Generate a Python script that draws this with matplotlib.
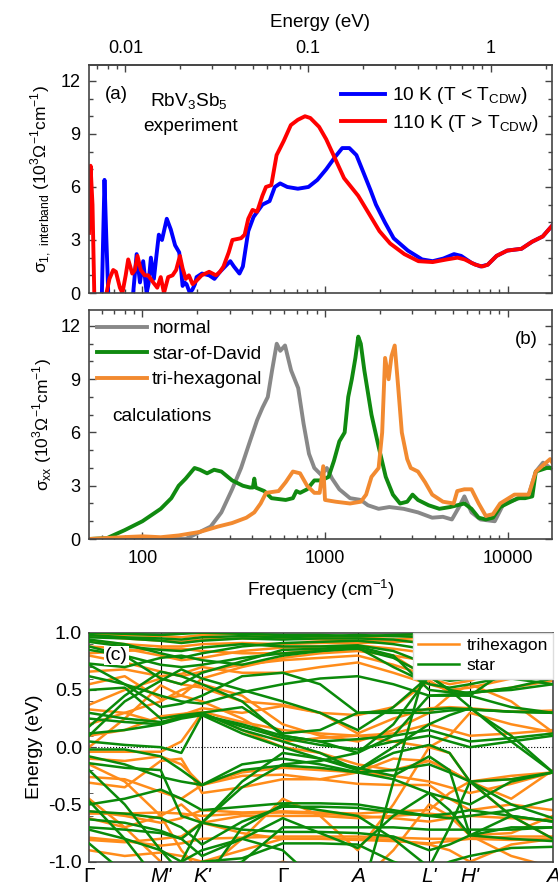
import numpy as np
import matplotlib
matplotlib.use("Agg")
import matplotlib.pyplot as plt
from matplotlib.ticker import MultipleLocator, FixedLocator, LogLocator, NullFormatter, FuncFormatter

plt.rcParams['font.family'] = ['Liberation Sans', 'DejaVu Sans']
plt.rcParams['axes.unicode_minus'] = False

# ---------------- panel (a): experiment ----------------
blue_f = [57, 60, 62, 63.5, 65, 67, 86, 89, 93, 97, 101, 105.5, 108, 111.3, 115.6, 119, 123, 128,
          136, 143, 151, 159, 162, 166, 170, 174.5, 182, 188, 194, 198, 212, 232, 248, 266, 290,
          303, 317, 340, 355, 380, 406, 454, 497, 531, 568, 621, 710, 812, 908, 1015, 1136, 1243,
          1359, 1486, 1626, 1778, 1901, 2127, 2376, 2842, 3400, 3887, 4448, 5086, 5563, 6357,
          7114, 7780, 8705, 9949, 11900, 13610, 15570, 17500]
blue_s = [-2, 0.0, 6.4, 3.0, 0.0, -2, -2, 0.0, 2.2, 0.6, 1.8, 0.0, 0.5, 2.0, 0.8, 2.0, 3.3, 3.0,
          4.2, 3.6, 2.7, 2.3, 1.6, 0.4, 0.6, 0.5, 0.0, 0.2, 0.5, 0.9, 1.1, 1.0, 0.8, 1.2, 1.6,
          1.8, 1.5, 1.1, 1.5, 3.5, 4.3, 5.0, 5.2, 6.0, 6.2, 6.0, 5.9, 6.0, 6.4, 7.0, 7.7, 8.2,
          8.2, 7.8, 6.8, 5.8, 5.0, 4.0, 3.1, 2.4, 1.9, 1.8, 1.95, 2.2, 2.1, 1.7,
          1.5, 1.6, 2.1, 2.4, 2.5, 2.9, 3.2, 3.8]

red_f = [51, 52, 53.3, 54.5, 56, 62, 63.6, 66, 69.2, 71.6, 75.3, 77.7, 81, 83.6, 88, 91, 94, 98,
         103, 107.6, 114.6, 120.6, 126, 131.3, 138.4, 146.3, 153, 160.5, 166, 172.8, 179.7, 188.3,
         198, 211, 232, 253, 266, 278, 297, 311, 347, 363, 380, 401, 425, 454, 475, 508, 543, 594,
         650, 710, 777, 831, 928, 1015, 1136, 1271, 1390, 1520, 1738, 1987, 2274, 2720, 3250,
         3887, 4650, 5316, 5813, 6653, 7277, 7780, 8705, 9949, 11900, 13610, 15570, 17500]
red_s = [3.4, 7.2, 5.0, 0.0, -2, -2, 0.0, 0.8, 1.3, 1.2, 0.3, 0.0, 1.0, 1.9, 1.1, 1.3, 2.1, 1.3,
         1.0, 1.0, 0.6, 0.3, 0.9, 0.0, 0.9, 1.0, 1.3, 2.1, 1.4, 0.8, 1.0, 0.5,
         0.7, 1.0, 1.2, 1.0, 1.2, 1.5, 2.3, 3.0, 3.1, 3.3, 4.2, 4.7, 4.6, 5.5, 6.0, 6.1, 7.8, 8.6,
         9.5, 9.8, 10.0, 9.9, 9.4, 8.7, 7.6, 6.5, 6.0, 5.5, 4.5, 3.5, 2.8, 2.2, 1.8,
         1.75, 1.9, 2.0, 1.9, 1.6, 1.5, 1.6, 2.1, 2.4, 2.5, 2.9, 3.2, 3.8]

# ---------------- panel (b): calculations ----------------
normal_f = [51, 172.5, 206.6, 236.5, 270.7, 310, 347, 388, 425, 454.6, 486, 513, 544, 569, 604,
            652, 713, 763, 817, 874, 956, 1023, 1094, 1198, 1371, 1570, 1718, 1966, 2251, 2695,
            3228, 3864, 4424, 4952, 5419, 5797, 6343, 7100, 8503, 9517, 10894, 13047, 14275,
            15619, 18294]
normal_s = [0, 0.0, 0.4, 0.7, 1.5, 2.8, 4.0, 5.5, 6.7, 7.4, 8.0, 9.5, 11.0, 10.6, 10.9,
            9.5, 8.5, 6.5, 4.8, 4.0, 3.6, 4.0, 3.4, 2.8, 2.3, 2.2, 1.9, 1.7, 1.8, 1.7,
            1.5, 1.2, 1.25, 1.1, 1.8, 2.4, 1.5, 1.1, 1.0, 2.0, 2.2, 2.5, 3.8,
            4.3, 3.8]

star_f = [51, 64, 80, 100, 126, 144, 158, 172.5, 193, 206.6, 226, 247, 270.7, 310, 355, 388,
          402.5, 410, 417, 465, 509, 609, 667, 697, 730, 798, 874, 956, 1046, 1119, 1198, 1281,
          1340, 1402, 1467, 1521, 1570, 1642, 1797, 1966, 2151, 2354, 2576, 2819, 3016, 3228,
          3693, 4229, 4841, 5298, 5797, 6343, 6941, 7597, 8313, 9097, 9955, 11397, 12471,
          13645, 14275, 16341, 18294]
star_s = [0.0, 0.05, 0.5, 1.0, 1.7, 2.3, 3.0, 3.4, 4.0, 3.9, 3.7, 3.9, 3.8, 3.3, 3.0, 2.9,
          2.9, 3.4, 2.9, 2.7, 2.3, 2.2, 2.3, 2.7, 2.6, 2.8, 3.3, 3.3, 3.5, 4.4, 5.5, 6.0,
          8.0, 9.0, 10.2, 11.4, 11.0, 9.5, 7.0, 5.2, 3.5, 2.5, 2.0, 2.1, 2.5, 2.2,
          1.9, 1.7, 1.8, 1.9, 2.0, 1.7, 1.2, 1.1, 1.2, 1.8, 2.0, 2.3, 2.3,
          2.4, 3.8, 4.0, 4.0]

trihex_f = [51, 77, 100, 126, 158, 206.6, 259, 310, 371, 410, 444, 475.5, 557, 609, 667, 730,
            798, 874, 935, 978, 1000, 1145, 1371, 1570, 1679, 1797, 1966, 2056, 2133, 2230,
            2312, 2408, 2519, 2634, 2819, 2949, 3228, 3531, 3864, 4424, 5063, 5298, 5797,
            6343, 6941, 7597, 8313, 9097, 10894, 13047, 14275, 17094, 18294]
trihex_s = [0.0, 0.1, 0.15, 0.1, 0.2, 0.4, 0.7, 0.9, 1.2, 1.5, 2.0, 2.6, 2.7, 3.2, 3.8, 3.7,
            3.0, 2.6, 2.6, 4.1, 2.2, 2.1, 2.0, 2.1, 2.5, 3.5, 4.0, 6.0, 10.2, 9.0,
            10.3, 10.9, 8.5, 6.0, 4.5, 4.0, 3.8, 3.2, 2.5, 2.1, 2.0, 2.7, 2.8,
            2.8, 2.0, 1.3, 1.4, 2.0, 2.5, 2.5, 3.8, 4.5, 4.0]

# ---------------- panel (c): bands ----------------
k_nodes = [0, 0.077, 0.1545, 0.199, 0.2435, 0.330, 0.4175, 0.498, 0.579, 0.656, 0.733, 0.777,
           0.821, 0.910, 1.0]
k_labels = ['Γ', "M'", "K'", 'Γ', 'A', "L'", "H'", 'A']

bands_star = [
    [1.00, 0.99, 0.98, 0.99, 1.00, 0.99, 0.98, 0.98, 0.97, 0.98, 0.99, 1.00, 1.00, 0.99, 0.98],
    [0.98, 0.96, 0.95, 0.94, 0.96, 0.97, 0.96, 0.97, 0.98, 0.97, 0.96, 0.95, 0.97, 0.97, 0.99],
    [0.96, 0.95, 0.93, 0.91, 0.93, 0.95, 0.94, 0.95, 0.95, 0.94, 0.90, 0.88, 0.90, 0.94, 0.95],
    [0.94, 0.90, 0.82, 0.78, 0.82, 0.88, 0.91, 0.92, 0.93, 0.90, 0.85, 0.83, 0.86, 0.90, 0.93],
    [0.92, 0.88, 0.85, 0.84, 0.87, 0.90, 0.88, 0.88, 0.89, 0.84, 0.72, 0.70, 0.73, 0.80, 0.86],
    [0.88, 0.80, 0.72, 0.70, 0.72, 0.78, 0.82, 0.84, 0.86, 0.78, 0.62, 0.58, 0.60, 0.66, 0.76],
    [0.85, 0.80, 0.60, 0.55, 0.65, 0.75, 0.85, 0.86, 0.88, 0.80, 0.50, 0.48, 0.45, 0.70, 0.90],
    [0.73, 0.70, 0.78, 0.80, 0.76, 0.72, 0.80, 0.84, 0.87, 0.70, 0.55, 0.52, 0.55, 0.62, 0.70],
    [0.72, 0.55, 0.35, 0.38, 0.45, 0.62, 0.65, 0.55, 0.30, 0.32, 0.33, 0.34, 0.33, 0.31, 0.30],
    [0.62, 0.55, 0.45, 0.40, 0.38, 0.48, 0.55, 0.60, 0.62, 0.55, 0.45, 0.46, 0.48, 0.50, 0.55],
    [0.50, 0.52, 0.25, 0.28, 0.30, 0.15, 0.05, -0.05, -0.20, 0.00, 0.20, 0.28, 0.34, 0.10, -0.22],
    [0.30, 0.25, 0.22, 0.26, 0.30, 0.35, 0.12, 0.15, 0.30, 0.30, 0.30, 0.32, 0.33, 0.31, 0.30],
    [0.25, 0.22, 0.20, 0.27, 0.29, 0.18, 0.08, 0.02, -0.02, 0.05, 0.10, 0.05, 0.00, 0.05, 0.10],
    [0.18, 0.45, 0.66, 0.62, 0.55, 0.40, 0.10, 0.05, -0.05, 0.10, 0.45, 0.45, 0.45, 0.35, 0.30],
    [0.12, 0.15, 0.20, 0.25, 0.28, 0.20, 0.10, 0.05, 0.07, 0.10, 0.15, 0.10, 0.05, 0.08, 0.12],
    [0.10, 0.40, 0.58, 0.68, 0.60, 0.50, 0.40, 0.30, 0.15, 0.35, 0.62, 0.50, 0.47, 0.52, 0.60],
    [0.05, 0.02, 0.00, -0.05, 0.28, 0.12, 0.00, -0.10, -0.20, -0.05, 0.02, -0.05, -0.30, -0.28, -0.22],
    [-0.02, -0.02, -0.08, -0.20, -0.33, -0.20, -0.16, -0.18, -0.22, -0.28, -0.40, -0.45, -0.50, -0.30, -0.22],
    [-0.08, -0.15, -0.26, -0.30, -0.33, -0.15, -0.10, -0.15, -0.22, -0.20, -0.15, -0.22, -0.30, -0.50, -0.62],
    [-0.14, -0.18, -0.20, -0.60, -0.66, -0.35, -0.15, -0.12, -0.05, 0.20, 0.62, 0.50, 0.35, 0.05, -0.22],
    [-0.20, -0.50, -0.90, -1.10, -1.20, -0.70, -0.50, -0.55, -0.60, -0.80, -1.05, -0.70, -0.30, -0.60, -0.80],
    [-0.47, -0.80, -1.20, -1.00, -0.66, -0.30, -0.05, -0.10, -0.18, -0.25, -0.08, -0.20, -0.77, -0.60, -0.65],
    [-0.50, -0.45, -0.37, -0.45, -0.55, -0.52, -0.49, -0.49, -0.50, -0.55, -0.60, -0.62, -0.60, -0.55, -0.45],
    [-0.56, -0.58, -0.62, -0.70, -0.85, -0.65, -0.52, -0.52, -0.53, -0.57, -0.60, -0.58, -0.55, -0.60, -0.65],
    [-0.63, -0.66, -0.73, -0.80, -0.95, -0.80, -0.62, -0.75, -0.88, -0.60, -0.40, -0.55, -0.77, -0.70, -0.70],
    [-0.70, -0.72, -0.75, -0.80, -0.66, -0.72, -0.74, -0.74, -0.75, -0.78, -0.90, -0.85, -0.77, -0.80, -0.82],
    [-0.72, -0.80, -0.90, -1.00, -1.10, -1.00, -0.70, -0.70, -0.70, -0.70, -0.72, -0.72, -0.72, -0.72, -0.70],
    [-0.84, -1.10, -1.30, -1.20, -1.00, -0.97, -0.84, -0.84, -0.85, -1.00, -1.10, -1.00, -0.95, -0.88, -0.87],
    [-1.30, -1.20, -1.10, -1.00, -0.90, -0.80, -0.90, -1.20, -1.40, -0.30, 0.80, 0.65, 0.62, 0.60, 0.55],
]

bands_trihex = [
    [0.99, 0.98, 0.97, 0.96, 0.98, 0.99, 0.97, 0.96, 0.96, 0.97, 0.98, 0.99, 0.99, 0.98, 0.97],
    [0.97, 0.95, 0.93, 0.92, 0.94, 0.95, 0.95, 0.94, 0.93, 0.94, 0.96, 0.97, 0.97, 0.96, 0.95],
    [0.93, 0.90, 0.88, 0.88, 0.90, 0.91, 0.90, 0.91, 0.91, 0.92, 0.93, 0.94, 0.95, 0.92, 0.91],
    [0.88, 0.86, 0.80, 0.76, 0.78, 0.84, 0.87, 0.88, 0.89, 0.86, 0.82, 0.80, 0.82, 0.86, 0.88],
    [0.82, 0.84, 0.86, 0.86, 0.84, 0.82, 0.82, 0.85, 0.86, 0.80, 0.75, 0.73, 0.75, 0.82, 0.85],
    [0.80, 0.74, 0.66, 0.62, 0.66, 0.72, 0.76, 0.78, 0.80, 0.72, 0.62, 0.60, 0.62, 0.68, 0.75],
    [0.66, 0.68, 0.62, 0.64, 0.70, 0.65, 0.65, 0.70, 0.74, 0.65, 0.55, 0.50, 0.52, 0.60, 0.72],
    [0.55, 0.62, 0.42, 0.45, 0.60, 0.70, 0.78, 0.82, 0.84, 0.80, 0.60, 0.55, 0.58, 0.70, 0.85],
    [0.37, 0.50, 0.60, 0.55, 0.52, 0.40, 0.37, 0.30, 0.28, 0.35, 0.58, 0.48, 0.47, 0.52, 0.58],
    [0.33, 0.30, 0.21, 0.28, 0.34, 0.30, 0.36, 0.30, 0.12, 0.25, 0.34, 0.35, 0.34, 0.31, 0.32],
    [0.20, 0.30, 0.40, 0.50, 0.55, 0.45, 0.20, 0.10, 0.05, 0.15, 0.30, 0.45, 0.55, 0.40, 0.13],
    [0.10, 0.15, 0.27, 0.29, 0.31, 0.22, 0.15, 0.12, 0.10, 0.12, 0.20, 0.15, 0.10, 0.12, 0.15],
    [0.00, 0.25, 0.54, 0.45, 0.40, 0.25, 0.05, 0.08, 0.10, 0.05, 0.00, 0.10, 0.30, 0.20, 0.13],
    [-0.04, -0.04, -0.04, 0.05, 0.30, 0.15, 0.00, -0.05, -0.15, -0.20, -0.12, -0.20, -0.30, -0.28, -0.22],
    [-0.10, -0.12, -0.08, -0.15, -0.33, -0.22, -0.18, -0.20, -0.22, -0.25, -0.30, -0.35, -0.40, -0.32, -0.22],
    [-0.15, -0.30, -0.60, -0.90, -1.10, -0.80, -0.45, -0.60, -0.90, -0.50, 0.00, -0.05, -0.30, -0.60, -0.80],
    [-0.26, -0.28, -0.39, -0.45, -0.33, -0.25, -0.24, -0.28, -0.32, -0.33, -0.33, -0.45, -0.55, -0.50, -0.55],
    [-0.31, -0.35, -0.12, -0.10, -0.40, -0.35, -0.28, -0.28, -0.22, -0.10, -0.12, -0.20, -0.30, -0.45, -0.20],
    [-0.45, -0.70, -1.00, -1.10, -1.20, -1.10, -1.00, -1.10, -1.20, -0.90, -0.50, -0.60, -0.77, -0.95, -1.05],
    [-0.56, -0.60, -0.66, -0.62, -0.55, -0.57, -0.56, -0.57, -0.58, -0.56, -0.55, -0.40, -0.30, -0.25, -0.22],
    [-0.58, -0.58, -0.57, -0.58, -0.60, -0.58, -0.57, -0.58, -0.60, -0.62, -0.65, -0.62, -0.60, -0.62, -0.64],
    [-0.62, -0.70, -0.60, -0.50, -0.66, -0.60, -0.60, -0.60, -0.62, -0.60, -0.58, -0.60, -0.77, -0.75, -0.60],
    [-0.79, -0.82, -0.86, -0.84, -0.80, -0.79, -0.78, -0.78, -0.78, -0.79, -0.80, -0.80, -0.80, -0.78, -0.78],
    [-0.81, -0.83, -0.80, -0.78, -0.66, -0.75, -0.80, -0.80, -0.81, -0.82, -0.84, -0.82, -0.80, -0.81, -0.80],
    [-0.90, -0.95, -0.92, -0.95, -1.00, -0.90, -0.80, -0.80, -0.80, -0.81, -0.85, -0.90, -1.00, -0.85, -0.80],
]

CM_PER_EV = 8065.54
c_blue, c_red = '#0000ff', '#ff0000'
c_gray, c_green, c_orange = '#888888', '#108a10', '#f28a30'
c_bgreen, c_borange = '#0a8a0a', '#ff8c1a'
spine_c = '#444444'

fig = plt.figure(figsize=(5.58, 8.86), dpi=100)
W, H = 558, 886
ax_a = fig.add_axes([89 / W, 1 - 293 / H, 463 / W, 228 / H])
ax_b = fig.add_axes([89 / W, 1 - 539 / H, 463 / W, 229 / H])
ax_c = fig.add_axes([89 / W, 1 - 861.7 / H, 464 / W, 229 / H])

sub = lambda s: r'$_{\mathregular{%s}}$' % s
sup = lambda s: r'$^{\mathregular{%s}}$' % s
unit = ' (10' + sup('3') + 'Ω' + sup('-1') + 'cm' + sup('-1') + ')'

for ax in (ax_a, ax_b):
    ax.set_xscale('log')
    ax.set_xlim(51, 17500)
    ax.set_ylim(0, 12.9)
    ax.yaxis.set_major_locator(MultipleLocator(3))
    ax.yaxis.set_minor_locator(MultipleLocator(1))
    ax.xaxis.set_major_locator(LogLocator(base=10))
    ax.xaxis.set_minor_locator(LogLocator(base=10, subs=np.arange(2, 10)))
    ax.xaxis.set_minor_formatter(NullFormatter())
    ax.tick_params(which='both', direction='in', right=True, labelsize=13, pad=6,
                   color=spine_c, width=1)
    ax.tick_params(which='major', length=5)
    ax.tick_params(which='minor', length=3)
    for s in ax.spines.values():
        s.set_color(spine_c)
        s.set_linewidth(1.2)

# (a)
ax_a.plot(blue_f, blue_s, color=c_blue, lw=2.8, label='10 K (T < T' + sub('CDW') + ')')
ax_a.plot(red_f, red_s, color=c_red, lw=2.8, label='110 K (T > T' + sub('CDW') + ')')
ax_a.tick_params(axis='x', which='both', top=False, labelbottom=False)
ax_a.set_ylabel('σ' + sub('1,\\ interband') + unit, fontsize=12.5, labelpad=5)
ax_a.legend(loc='upper left', bbox_to_anchor=(0.515, 0.97), frameon=False, fontsize=13.8,
            handlelength=2.3, handletextpad=0.35, labelspacing=0.35, borderaxespad=0.3)
ax_a.text(0.035, 0.87, '(a)', transform=ax_a.transAxes, fontsize=13.5, va='center')
ax_a.text(0.215, 0.84, 'RbV' + sub('3') + 'Sb' + sub('5'), transform=ax_a.transAxes,
          fontsize=13.8, ha='center', va='center')
ax_a.text(0.22, 0.73, 'experiment', transform=ax_a.transAxes, fontsize=13.8,
          ha='center', va='center')

secax = ax_a.secondary_xaxis('top', functions=(lambda x: x / CM_PER_EV, lambda e: e * CM_PER_EV))
secax.set_xscale('log')
secax.xaxis.set_major_locator(FixedLocator([0.01, 0.1, 1]))
secax.xaxis.set_major_formatter(FuncFormatter(lambda v, p: '%g' % v))
secax.xaxis.set_minor_locator(LogLocator(base=10, subs=np.arange(2, 10)))
secax.xaxis.set_minor_formatter(NullFormatter())
secax.tick_params(which='both', direction='in', labelsize=13, pad=6, color=spine_c, width=1)
secax.tick_params(which='major', length=5)
secax.tick_params(which='minor', length=3)
secax.set_xlabel('Energy (eV)', fontsize=13.5, labelpad=9)
secax.spines['top'].set_color(spine_c)
secax.spines['top'].set_linewidth(1.2)

# (b)
ax_b.plot(normal_f, normal_s, color=c_gray, lw=2.8, label='normal')
ax_b.plot(star_f, star_s, color=c_green, lw=2.8, label='star-of-David')
ax_b.plot(trihex_f, trihex_s, color=c_orange, lw=2.8, label='tri-hexagonal')
ax_b.tick_params(which='both', top=True)
ax_b.tick_params(axis='x', pad=8)
ax_b.set_ylabel('σ' + sub('xx') + unit, fontsize=12.5, labelpad=5)
ax_b.set_xlabel('Frequency (cm' + sup('-1') + ')', fontsize=13.5, labelpad=7)
ax_b.xaxis.set_major_formatter(FuncFormatter(lambda v, p: '%d' % v))
ax_b.legend(loc='upper left', frameon=False, fontsize=13.8, handlelength=2.6,
            handletextpad=0.3, labelspacing=0.42, borderaxespad=0.0,
            bbox_to_anchor=(0.0, 0.99))
ax_b.text(0.945, 0.87, '(b)', transform=ax_b.transAxes, fontsize=13.5, ha='center', va='center')
ax_b.text(0.05, 0.535, 'calculations', transform=ax_b.transAxes, fontsize=13.8, va='center')

# (c)
ax_c.axhline(0, color='black', lw=0.8, ls=':', zorder=1)
for kx in k_nodes[2:-1:2]:
    ax_c.axvline(kx, color='black', lw=0.8, zorder=1)
for e in bands_trihex:
    ax_c.plot(k_nodes, e, color=c_borange, lw=1.8, zorder=2)
for e in bands_star:
    ax_c.plot(k_nodes, e, color=c_bgreen, lw=1.8, zorder=3)
ax_c.plot([], [], color=c_borange, lw=1.8, label='trihexagon')
ax_c.plot([], [], color=c_bgreen, lw=1.8, label='star')
ax_c.set_xlim(0, 1)
ax_c.set_ylim(-1, 1)
ax_c.set_xticks(k_nodes[::2])
ax_c.set_xticklabels(k_labels)
for lbl in ax_c.get_xticklabels():
    if lbl.get_text() != 'Γ':
        lbl.set_fontstyle('italic')
ax_c.yaxis.set_major_locator(MultipleLocator(0.5))
ax_c.yaxis.set_minor_locator(MultipleLocator(0.1))
ax_c.yaxis.set_major_formatter(FuncFormatter(lambda v, p: '%.1f' % v))
ax_c.tick_params(axis='x', length=0, labelsize=15, pad=4)
ax_c.tick_params(axis='y', which='both', direction='in', labelsize=14, pad=5, color=spine_c)
ax_c.tick_params(axis='y', which='major', length=5)
ax_c.tick_params(axis='y', which='minor', length=3)
ax_c.set_ylabel('Energy (eV)', fontsize=14, labelpad=4)
for s in ax_c.spines.values():
    s.set_color(spine_c)
    s.set_linewidth(1.2)
leg = ax_c.legend(loc='upper right', fontsize=12.5, frameon=True, fancybox=False,
                  edgecolor='#dddddd', framealpha=1, handlelength=2.4, handletextpad=0.4,
                  borderaxespad=0.0, borderpad=0.3, labelspacing=0.3)
leg.set_zorder(5)
ax_c.text(0.035, 0.9, '(c)', transform=ax_c.transAxes, fontsize=14, va='center', zorder=6,
          bbox=dict(facecolor='white', edgecolor='none', pad=1))

fig.savefig('out.png', dpi=100)
